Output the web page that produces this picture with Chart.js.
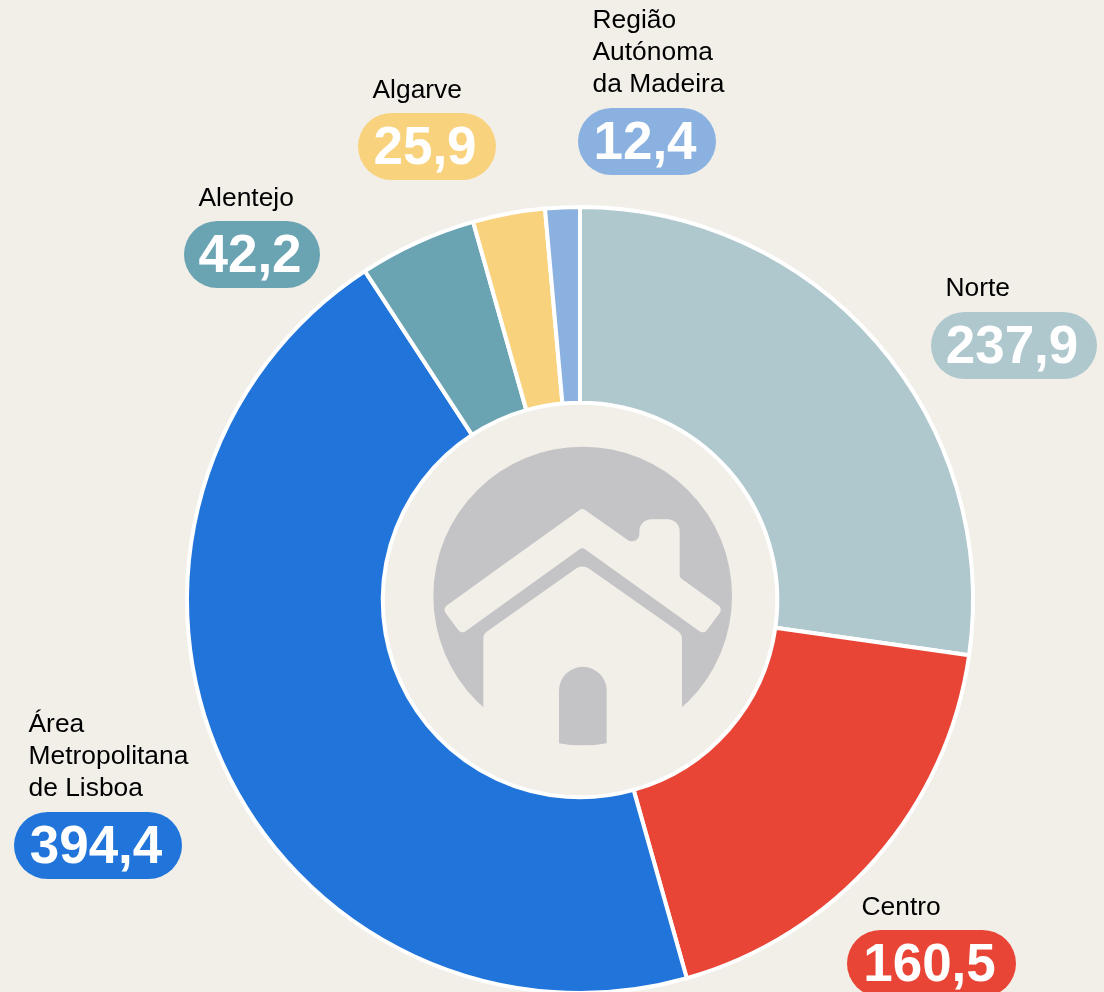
<!DOCTYPE html>
<html lang="pt">
<head>
<meta charset="utf-8">
<style>
html,body{margin:0;padding:0;width:1104px;height:992px;overflow:hidden;background:#F2EFE8}
canvas{display:block}
</style>
<script src="https://cdn.jsdelivr.net/npm/chart.js@4"></script>
</head>
<body>
<canvas id="c" width="1104" height="1000"></canvas>
<script>
const categories = ["Norte", "Centro", "Área Metropolitana de Lisboa", "Alentejo", "Algarve", "Região Autónoma da Madeira"];
const values = [237.9, 160.5, 394.4, 42.2, 25.9, 12.4];
const colors = ["#AFC8CE", "#E94536", "#2175DA", "#6AA4B3", "#F9D27E", "#8AB1E0"];
const labelLines = [["Norte"], ["Centro"], ["Área", "Metropolitana", "de Lisboa"], ["Alentejo"], ["Algarve"], ["Região", "Autónoma", "da Madeira"]];
const pills = [[931,312,166],[847,930,169],[14,812,168],[184,221,136],[358,113,138],[578,108,138]];
const labelGap = [16, 15.5, 16, 15, 15.5, 16.2];

const BG = "#F2EFE8", ICON = "#C4C4C7";
const fmt = v => v.toFixed(1).replace(".", ",");

function poly(ctx, pts){
  const n = pts.length;
  const m = (a,b)=>[(a[0]+b[0])/2,(a[1]+b[1])/2];
  const s = m(pts[n-1],pts[0]);
  ctx.beginPath(); ctx.moveTo(s[0],s[1]);
  for(let i=0;i<n;i++){
    const p=pts[i], q=pts[(i+1)%n];
    ctx.arcTo(p[0],p[1],q[0],q[1],p[2]||0.01);
  }
  ctx.closePath();
}

const overlay = {
  id:"overlay",
  afterDraw(chart){
    const ctx = chart.ctx;
    ctx.save();
    ctx.translate(420,440); ctx.scale(1/3,1/3);
    ctx.beginPath(); ctx.arc(488,468,448,0,Math.PI*2); ctx.fillStyle=ICON; ctx.fill();
    ctx.fillStyle=BG;
    poly(ctx,[[487,204,14],[658,324,22],[658,238,36],[779,238,36],[779,412,14],[909,506,16],[851,583,16],[487,322,14],[124,583,16],[67,506,16]]);
    ctx.fill();
    poly(ctx,[[190,960],[190,582,26],[487,372,36],[786,582,30],[786,960]]);
    ctx.fill();
    ctx.save();
    ctx.beginPath(); ctx.arc(488,468,448,0,Math.PI*2); ctx.clip();
    ctx.fillStyle=ICON;
    ctx.beginPath();
    ctx.moveTo(417,960); ctx.lineTo(417,752); ctx.arc(488.5,752,71.5,Math.PI,0); ctx.lineTo(560,960); ctx.closePath(); ctx.fill();
    ctx.restore();
    ctx.restore();
    ctx.save();
    values.forEach((v,i)=>{
      const [x,y,w]=pills[i];
      const h=67;
      ctx.fillStyle=colors[i];
      ctx.beginPath(); ctx.roundRect(x,y,w,h,h/2); ctx.fill();
      ctx.fillStyle="#fff";
      ctx.font="bold 53px 'Liberation Sans', Arial, sans-serif";
      ctx.textAlign="center"; ctx.textBaseline="alphabetic";
      ctx.fillText(fmt(v),x+w/2-2,y+50.5);
      ctx.fillStyle="#000";
      ctx.font="26.4px 'Liberation Sans', Arial, sans-serif";
      ctx.textAlign="left";
      const lines=labelLines[i];
      lines.forEach((t,k)=>ctx.fillText(t,x+14.5,y-labelGap[i]-(lines.length-1-k)*32));
    });
    ctx.restore();
  }
};

new Chart(document.getElementById("c"),{
  type:"doughnut",
  data:{labels:categories,datasets:[{data:values,backgroundColor:colors,borderColor:"#fff",borderWidth:4,borderAlign:"center",spacing:0}]},
  options:{
    responsive:false,animation:false,cutout:"50.2%",
    layout:{padding:{left:185,right:129,top:205,bottom:5}},
    plugins:{legend:{display:false},tooltip:{enabled:false}}
  },
  plugins:[overlay]
});
</script>
</body>
</html>
